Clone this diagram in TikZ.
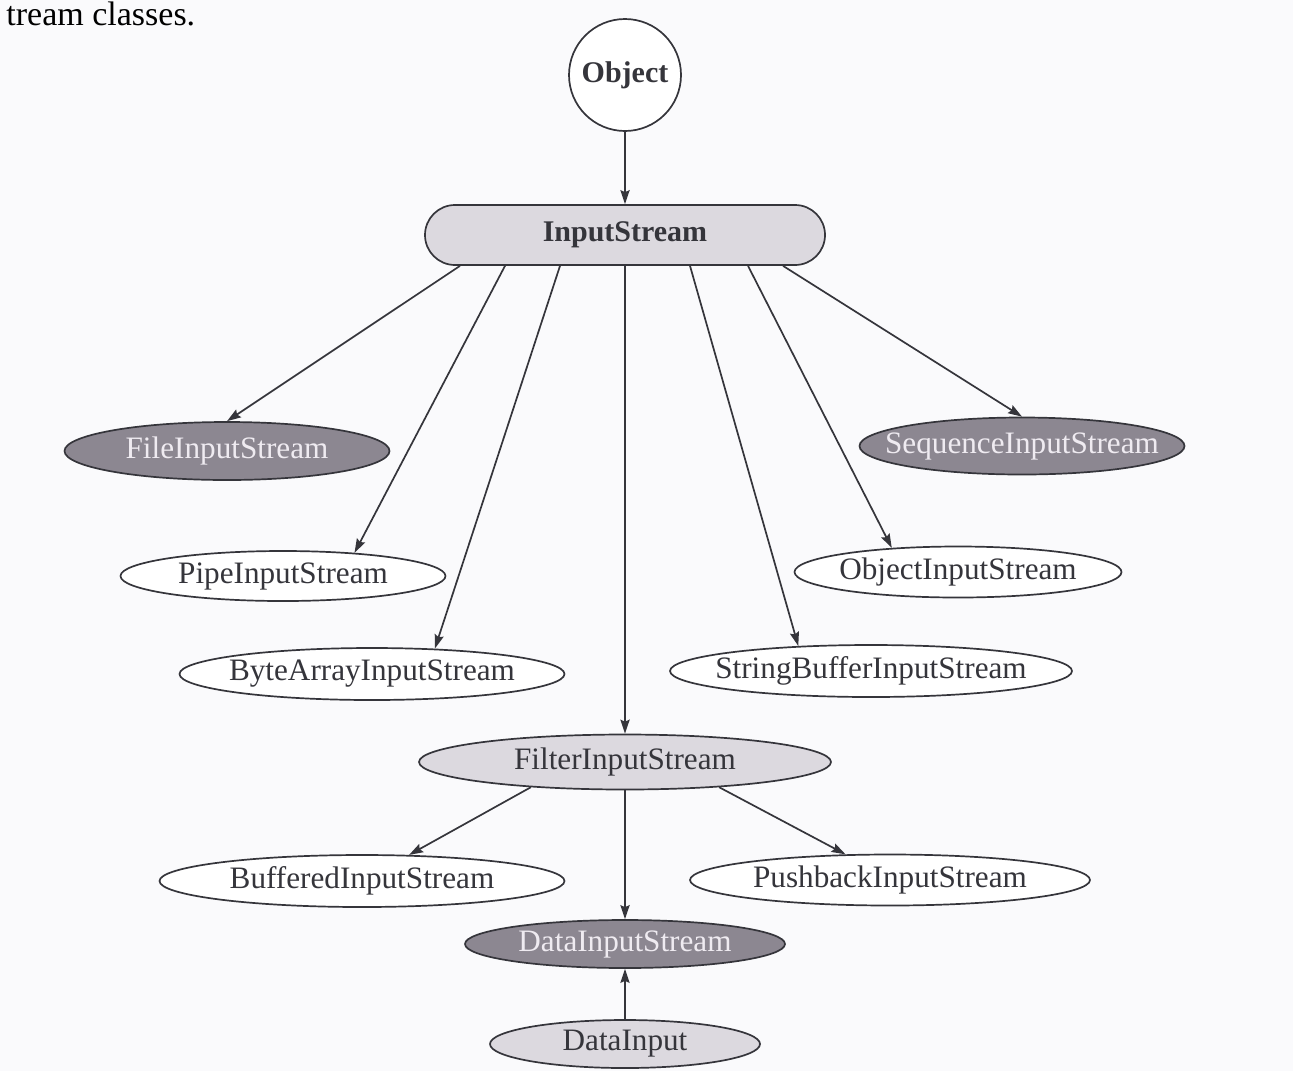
\documentclass[tikz,border=0pt]{standalone}
\usepackage{fontspec}
\setmainfont{Liberation Serif}
\usetikzlibrary{shapes.geometric,arrows.meta}
% centre a label without letting its width enlarge the surrounding shape
\newcommand{\zw}[1]{\makebox[0pt][c]{#1}}
\definecolor{ink}{HTML}{35353B}
\definecolor{paper}{HTML}{FAFAFC}
\definecolor{darkfill}{HTML}{8C8791}
\definecolor{lightfill}{HTML}{DCD9DF}
\definecolor{lighttext}{HTML}{EFEBF1}
\begin{document}
\begin{tikzpicture}[x=0.5pt,y=-0.5pt,
  every node/.style={font=\fontsize{15.6pt}{18pt}\selectfont},
  cls/.style={ellipse, draw=ink, line width=0.85pt, inner sep=0pt, text=ink},
  whitecls/.style={cls, fill=white},
  lightcls/.style={cls, fill=lightfill},
  darkcls/.style={cls, fill=darkfill, text=lighttext},
  arr/.style={draw=ink, line width=0.85pt, -{Stealth[length=7pt,width=4.6pt,inset=1pt]}}
]
% page
\fill[paper] (0,0) rectangle (1293,1071);
\useasboundingbox (0,0) rectangle (1293,1071);

% running text at the top edge
\node[anchor=base west, inner sep=0pt, text=black, font=\fontsize{17pt}{20pt}\selectfont] (head) at (6,25) {tream classes.};

% root and abstract base class
\node[circle, draw=ink, line width=0.85pt, fill=white, minimum size=56pt, inner sep=0pt,
      text=ink, font=\fontsize{15pt}{18pt}\selectfont\bfseries] (obj) at (625,75) {Object};
\node[rectangle, rounded corners=15pt, draw=ink, line width=0.85pt, fill=lightfill,
      minimum width=200pt, minimum height=30pt, inner sep=0pt, text=ink,
      font=\fontsize{15pt}{18pt}\selectfont\bfseries] (is) at (625,235) {InputStream};

% direct subclasses
\node[darkcls, minimum width=162.5pt, minimum height=29pt] (fis) at (227,451) {\zw{FileInputStream}};
\node[darkcls, minimum width=162.5pt, minimum height=28.5pt] (sqis) at (1022,446) {\zw{SequenceInputStream}};
\node[whitecls, minimum width=162.5pt, minimum height=25pt] (pis) at (283,576) {\zw{PipeInputStream}};
\node[whitecls, minimum width=163.5pt, minimum height=25.5pt] (ois) at (958,572) {\zw{ObjectInputStream}};
\node[whitecls, minimum width=192.5pt, minimum height=26pt] (bais) at (372,674) {\zw{ByteArrayInputStream}};
\node[whitecls, minimum width=201pt, minimum height=26pt] (sbis) at (871,671) {\zw{StringBufferInputStream}};
\node[lightcls, minimum width=206pt, minimum height=27.5pt] (filt) at (625,762) {\zw{FilterInputStream}};

% filter subclasses
\node[whitecls, minimum width=202.5pt, minimum height=26pt] (bis) at (362,881) {\zw{BufferedInputStream}};
\node[whitecls, minimum width=200pt, minimum height=25.5pt] (pbis) at (890,880) {\zw{PushbackInputStream}};
\node[darkcls, minimum width=160pt, minimum height=24pt] (dis) at (625,944) {\zw{DataInputStream}};
\node[lightcls, minimum width=135pt, minimum height=24pt] (di) at (625,1044) {\zw{DataInput}};

% inheritance arrows
\draw[arr] (obj) -- (is);
\draw[arr] ([xshift=-82.5pt]is.south) -- (fis.north);
\draw[arr] ([xshift=-60pt]is.south) -- (pis.18);
\draw[arr] ([xshift=-32.5pt]is.south) -- (bais.22);
\draw[arr] (is) -- (filt);
\draw[arr] ([xshift=32.5pt]is.south) -- (sbis.161);
\draw[arr] ([xshift=61.5pt]is.south) -- (ois.160);
\draw[arr] ([xshift=79pt]is.south) -- (sqis.north);
\draw[arr] (filt.195) -- (bis.29);
\draw[arr] (filt.345) -- (pbis.150);
\draw[arr] (filt) -- (dis);
\draw[arr] (di) -- (dis);
\end{tikzpicture}
\end{document}
